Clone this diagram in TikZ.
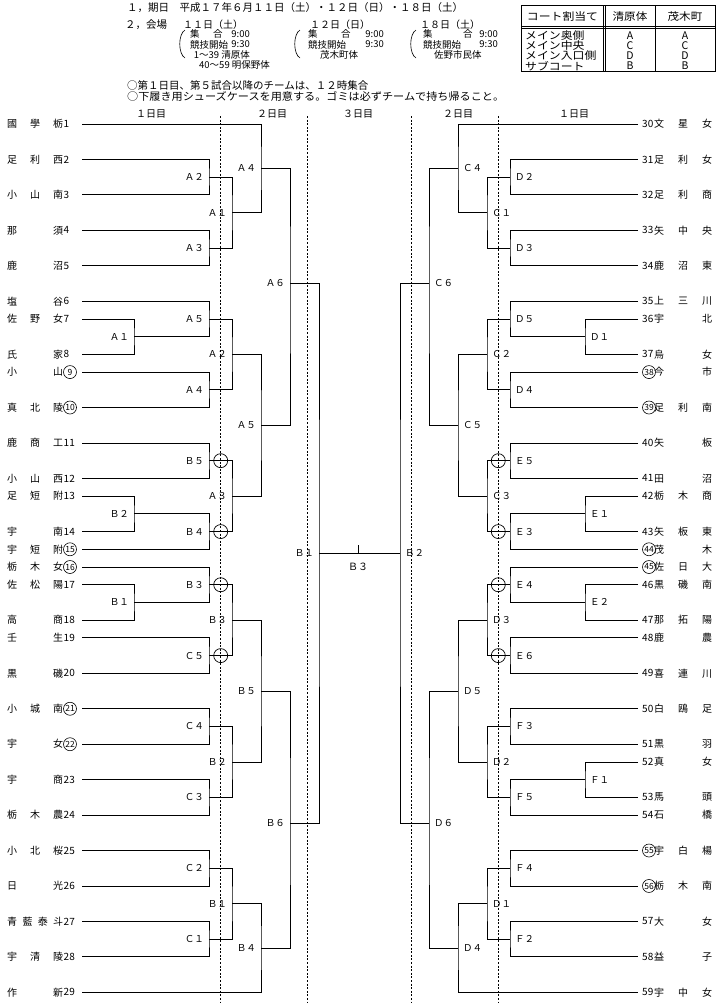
\documentclass[tikz,border=0pt]{standalone}
\usepackage{fontspec}
\setmainfont{Noto Sans CJK JP}
\usetikzlibrary{calc}
\tikzset{
 br/.style={line width=0.8pt},
 dl/.style={line width=0.7pt, dash pattern=on 2pt off 1.6pt},
 lblL/.style={anchor=east, inner sep=0pt, font=\fontsize{9.5}{10}\selectfont, xshift=-5pt},
 lblR/.style={anchor=west, inner sep=0pt, font=\fontsize{9.5}{10}\selectfont, xshift=5pt},
 nm/.style={inner sep=0pt, font=\fontsize{10}{10}\selectfont},
 num/.style={inner sep=0pt, font=\fontsize{10}{10}\selectfont},
 cnum/.style={circle, draw, line width=0.6pt, inner sep=0pt, minimum size=13pt, font=\fontsize{8.5}{8.5}\selectfont},
 ring/.style={circle, draw, line width=0.7pt, minimum size=14pt, inner sep=0pt},
 hd/.style={inner sep=0pt, font=\fontsize{10.5}{11}\selectfont},
 hs/.style={inner sep=0pt, font=\fontsize{10}{10}\selectfont},
 hb/.style={inner sep=0pt, font=\fontsize{9.5}{10}\selectfont},
 tb/.style={inner sep=0pt, font=\fontsize{10.5}{10.5}\selectfont},
}
\newcommand\Lteam[4]{%
 \coordinate (t#1) at (82,{124+#2*17.72});
 \node[nm,anchor=west] (n#1) at (7,{124+#2*17.72}) {\makebox[56pt][s]{#3}};
 \ifnum#4=1 \node[cnum] (k#1) at (70,{124+#2*17.72}) {#1};
 \else \node[num,anchor=west] (k#1) at (63.5,{124+#2*17.72}) {#1};\fi}
\newcommand\Rteam[4]{%
 \coordinate (t#1) at (638,{124+#2*17.72});
 \node[nm,anchor=west] (n#1) at (654,{124+#2*17.72}) {\makebox[58pt][s]{#3}};
 \ifnum#4=1 \node[cnum] (k#1) at (649,{124+#2*17.72}) {#1};
 \else \node[num,anchor=east] (k#1) at (653.5,{124+#2*17.72}) {#1};\fi}
\newcommand\Mt[6]{%
 \coordinate (#1) at ($(#2 -| #4)!.5!(#3 -| #4)$);
 \draw[br] (#2) -| (#1) |- (#3);
 \node[#6] (#1l) at (#1) {#5};}
\newcommand\My[7]{%
 \coordinate (#1) at ($(#4)+(0,#5)$);
 \draw[br] (#2) -| (#1) |- (#3);
 \node[#7] (#1l) at (#1) {#6};}
\begin{document}
\begin{tikzpicture}[x=1pt,y=-1pt]
\useasboundingbox (0,0) rectangle (720,1005);
% header
\node[hd,anchor=west] (h1) at (127,7.5) {１，期日　平成１７年６月１１日（土）・１２日（日）・１８日（土）};
\node[hd,anchor=west] (h2) at (125,25) {２，会場};
\node[hs,anchor=west] (h3) at (183,25) {１１日（土）};
\node[hs,anchor=west] (h4) at (310,25) {１２日（日）};
\node[hs,anchor=west] (h5) at (420,25) {１８日（土）};
% block 1
\node[hb,anchor=west] (b1a) at (190,34) {集};
\node[hb,anchor=west] (b1b) at (213,34) {合};
\node[hb,anchor=east] (b1c) at (250,34) {9:00};
\node[hb,anchor=west] (b1d) at (190,44.5) {競技開始};
\node[hb,anchor=east] (b1e) at (250,44.5) {9:30};
\node[hb,anchor=east] (b1f) at (250,55) {1～39 清原体};
\node[hb,anchor=west] (b1g) at (199,65) {40～59 明保野体};
% block 2
\node[hb,anchor=west] (b2a) at (308,34) {集};
\node[hb,anchor=west] (b2b) at (341,34) {合};
\node[hb,anchor=east] (b2c) at (384,34) {9:00};
\node[hb,anchor=west] (b2d) at (308,44.5) {競技開始};
\node[hb,anchor=east] (b2e) at (384,44.5) {9:30};
\node[hb,anchor=west] (b2f) at (320,55) {茂木町体};
% block 3
\node[hb,anchor=west] (b3a) at (423,34) {集};
\node[hb,anchor=west] (b3b) at (463,34) {合};
\node[hb,anchor=east] (b3c) at (498,34) {9:00};
\node[hb,anchor=west] (b3d) at (423,44.5) {競技開始};
\node[hb,anchor=east] (b3e) at (498,44.5) {9:30};
\node[hb,anchor=west] (b3f) at (434,55) {佐野市民体};
\draw[line width=0.6pt] (185,30) .. controls (178,34) and (178,54) .. (185,58);
\draw[line width=0.6pt] (300,30) .. controls (293,34) and (293,54) .. (300,58);
\draw[line width=0.6pt] (416,30) .. controls (409,34) and (409,54) .. (416,58);
\node[hd,anchor=west] (h6) at (127,85.5) {○第１日目、第５試合以降のチームは、１２時集合};
\node[hd,anchor=west] (h7) at (127,96) {\scalebox{1.06}[1]{○下履き用シューズケースを用意する。ゴミは必ずチームで持ち帰ること。}};
% table
\draw[line width=0.8pt] (521,5) rectangle (715,71);
\draw[line width=0.6pt] (521,26.5) -- (715,26.5);
\draw[line width=0.6pt] (521,28.5) -- (715,28.5);
\draw[line width=0.6pt] (603,5) -- (603,71);
\draw[line width=0.6pt] (605,5) -- (605,71);
\draw[line width=0.6pt] (655,5) -- (655,71);
\node[tb] (ta) at (562.5,16.5) {\scalebox{1.13}[1]{コート割当て}};
\node[tb] (tb) at (630,16.5) {\scalebox{1.1}[1]{清原体}};
\node[tb] (tc) at (685,16.5) {\scalebox{1.1}[1]{茂木町}};
\node[tb,anchor=west] (r1) at (525,36) {\scalebox{1.13}[1]{メイン奥側}};
\node[tb,anchor=west] (r2) at (525,46) {\scalebox{1.13}[1]{メイン中央}};
\node[tb,anchor=west] (r3) at (525,56) {\scalebox{1.13}[1]{メイン入口側}};
\node[tb,anchor=west] (r4) at (525,66) {\scalebox{1.13}[1]{サブコート}};
\foreach \l [count=\i] in {A,C,D,B}{
 \node[tb] (c2\i) at (630,{26+\i*10}) {\l};
 \node[tb] (c3\i) at (685,{26+\i*10}) {\l};}
% day headers
\node[hs] (d1) at (151,114) {１日目};
\node[hs] (d2) at (272,114) {２日目};
\node[hs] (d3) at (358,114) {３日目};
\node[hs] (d4) at (458,114) {２日目};
\node[hs] (d5) at (574,114) {１日目};
% dashed day lines
\foreach \x/\n in {220.7/a,307/b,411.7/c,498.3/d}{
 \coordinate (g\n1) at (\x,116);
 \coordinate (g\n2) at (\x,1003);
 \draw[dl] (g\n1) -- (g\n2);}
% x positions
\coordinate (xa) at (134,0);
\coordinate (xb) at (209,0);
\coordinate (xc) at (232,0);
\coordinate (xd) at (261,0);
\coordinate (xe) at (290,0);
\coordinate (xf) at (319,0);
\coordinate (ya) at (585,0);
\coordinate (yb) at (510,0);
\coordinate (yc) at (487,0);
\coordinate (yd) at (458,0);
\coordinate (ye) at (429,0);
\coordinate (yf) at (400,0);
\coordinate (xr) at (220.7,0);
\coordinate (yr) at (498.3,0);
% left teams
\Lteam{1}{0}{國\hfill 學\hfill 栃}{0}
\Lteam{2}{2}{足\hfill 利\hfill 西}{0}
\Lteam{3}{4}{小\hfill 山\hfill 南}{0}
\Lteam{4}{6}{那\hfill 須}{0}
\Lteam{5}{8}{鹿\hfill 沼}{0}
\Lteam{6}{10}{塩\hfill 谷}{0}
\Lteam{7}{11}{佐\hfill 野\hfill 女}{0}
\Lteam{8}{13}{氏\hfill 家}{0}
\Lteam{9}{14}{小\hfill 山}{1}
\Lteam{10}{16}{真\hfill 北\hfill 陵}{1}
\Lteam{11}{18}{鹿\hfill 商\hfill 工}{0}
\Lteam{12}{20}{小\hfill 山\hfill 西}{0}
\Lteam{13}{21}{足\hfill 短\hfill 附}{0}
\Lteam{14}{23}{宇\hfill 南}{0}
\Lteam{15}{24}{宇\hfill 短\hfill 附}{1}
\Lteam{16}{25}{栃\hfill 木\hfill 女}{1}
\Lteam{17}{26}{佐\hfill 松\hfill 陽}{0}
\Lteam{18}{28}{高\hfill 商}{0}
\Lteam{19}{29}{壬\hfill 生}{0}
\Lteam{20}{31}{黒\hfill 磯}{0}
\Lteam{21}{33}{小\hfill 城\hfill 南}{1}
\Lteam{22}{35}{宇\hfill 女}{1}
\Lteam{23}{37}{宇\hfill 商}{0}
\Lteam{24}{39}{栃\hfill 木\hfill 農}{0}
\Lteam{25}{41}{小\hfill 北\hfill 桜}{0}
\Lteam{26}{43}{日\hfill 光}{0}
\Lteam{27}{45}{青\hfill 藍\hfill 泰\hfill 斗}{0}
\Lteam{28}{47}{宇\hfill 清\hfill 陵}{0}
\Lteam{29}{49}{作\hfill 新}{0}
% right teams
\Rteam{30}{0}{文\hfill 星\hfill 女}{0}
\Rteam{31}{2}{足\hfill 利\hfill 女}{0}
\Rteam{32}{4}{足\hfill 利\hfill 商}{0}
\Rteam{33}{6}{矢\hfill 中\hfill 央}{0}
\Rteam{34}{8}{鹿\hfill 沼\hfill 東}{0}
\Rteam{35}{10}{上\hfill 三\hfill 川}{0}
\Rteam{36}{11}{宇\hfill 北}{0}
\Rteam{37}{13}{烏\hfill 女}{0}
\Rteam{38}{14}{今\hfill 市}{1}
\Rteam{39}{16}{足\hfill 利\hfill 南}{1}
\Rteam{40}{18}{矢\hfill 板}{0}
\Rteam{41}{20}{田\hfill 沼}{0}
\Rteam{42}{21}{栃\hfill 木\hfill 商}{0}
\Rteam{43}{23}{矢\hfill 板\hfill 東}{0}
\Rteam{44}{24}{茂\hfill 木}{1}
\Rteam{45}{25}{佐\hfill 日\hfill 大}{1}
\Rteam{46}{26}{黒\hfill 磯\hfill 南}{0}
\Rteam{47}{28}{那\hfill 拓\hfill 陽}{0}
\Rteam{48}{29}{鹿\hfill 農}{0}
\Rteam{49}{31}{喜\hfill 連\hfill 川}{0}
\Rteam{50}{33}{白\hfill 鴎\hfill 足}{0}
\Rteam{51}{35}{黒\hfill 羽}{0}
\Rteam{52}{36}{真\hfill 女}{0}
\Rteam{53}{38}{馬\hfill 頭}{0}
\Rteam{54}{39}{石\hfill 橋}{0}
\Rteam{55}{41}{宇\hfill 白\hfill 楊}{1}
\Rteam{56}{43}{栃\hfill 木\hfill 南}{1}
\Rteam{57}{45}{大\hfill 女}{0}
\Rteam{58}{47}{益\hfill 子}{0}
\Rteam{59}{49}{宇\hfill 中\hfill 女}{0}
% left bracket
\Mt{LA1p}{t7}{t8}{xa}{Ａ１}{lblL}
\Mt{LB2p}{t13}{t14}{xa}{Ｂ２}{lblL}
\Mt{LB1p}{t17}{t18}{xa}{Ｂ１}{lblL}
\Mt{LA2}{t2}{t3}{xb}{Ａ２}{lblL}
\Mt{LA3}{t4}{t5}{xb}{Ａ３}{lblL}
\Mt{LA5}{t6}{LA1p}{xb}{Ａ５}{lblL}
\Mt{LA4}{t9}{t10}{xb}{Ａ４}{lblL}
\Mt{LB5}{t11}{t12}{xb}{Ｂ５}{lblL}
\Mt{LB4}{LB2p}{t15}{xb}{Ｂ４}{lblL}
\Mt{LB3}{t16}{LB1p}{xb}{Ｂ３}{lblL}
\Mt{LC5}{t19}{t20}{xb}{Ｃ５}{lblL}
\Mt{LC4}{t21}{t22}{xb}{Ｃ４}{lblL}
\Mt{LC3}{t23}{t24}{xb}{Ｃ３}{lblL}
\Mt{LC2}{t25}{t26}{xb}{Ｃ２}{lblL}
\Mt{LC1}{t27}{t28}{xb}{Ｃ１}{lblL}
\Mt{LA1b}{LA2}{LA3}{xc}{Ａ１}{lblL}
\Mt{LA2b}{LA5}{LA4}{xc}{Ａ２}{lblL}
\Mt{LA3b}{LB5}{LB4}{xc}{Ａ３}{lblL}
\Mt{LB3b}{LB3}{LC5}{xc}{Ｂ３}{lblL}
\Mt{LB2b}{LC4}{LC3}{xc}{Ｂ２}{lblL}
\Mt{LB1b}{LC2}{LC1}{xc}{Ｂ１}{lblL}
\Mt{LA4b}{t1}{LA1b}{xd}{Ａ４}{lblL}
\Mt{LA5b}{LA2b}{LA3b}{xd}{Ａ５}{lblL}
\Mt{LB5b}{LB3b}{LB2b}{xd}{Ｂ５}{lblL}
\Mt{LB4b}{LB1b}{t29}{xd}{Ｂ４}{lblL}
\My{LA6}{LA4b}{LA5b}{xe}{283}{Ａ６}{lblL}
\My{LB6}{LB5b}{LB4b}{xe}{823}{Ｂ６}{lblL}
\My{LB1c}{LA6}{LB6}{xf}{553}{Ｂ１}{lblL}
% right bracket
\Mt{RD1p}{t36}{t37}{ya}{Ｄ１}{lblR}
\Mt{RE1p}{t42}{t43}{ya}{Ｅ１}{lblR}
\Mt{RE2p}{t46}{t47}{ya}{Ｅ２}{lblR}
\Mt{RF1p}{t52}{t53}{ya}{Ｆ１}{lblR}
\Mt{RD2}{t31}{t32}{yb}{Ｄ２}{lblR}
\Mt{RD3}{t33}{t34}{yb}{Ｄ３}{lblR}
\Mt{RD5}{t35}{RD1p}{yb}{Ｄ５}{lblR}
\Mt{RD4}{t38}{t39}{yb}{Ｄ４}{lblR}
\Mt{RE5}{t40}{t41}{yb}{Ｅ５}{lblR}
\Mt{RE3}{RE1p}{t44}{yb}{Ｅ３}{lblR}
\Mt{RE4}{t45}{RE2p}{yb}{Ｅ４}{lblR}
\Mt{RE6}{t48}{t49}{yb}{Ｅ６}{lblR}
\Mt{RF3}{t50}{t51}{yb}{Ｆ３}{lblR}
\Mt{RF5}{RF1p}{t54}{yb}{Ｆ５}{lblR}
\Mt{RF4}{t55}{t56}{yb}{Ｆ４}{lblR}
\Mt{RF2}{t57}{t58}{yb}{Ｆ２}{lblR}
\Mt{RC1}{RD2}{RD3}{yc}{Ｃ１}{lblR}
\Mt{RC2}{RD5}{RD4}{yc}{Ｃ２}{lblR}
\Mt{RC3}{RE5}{RE3}{yc}{Ｃ３}{lblR}
\Mt{RD3b}{RE4}{RE6}{yc}{Ｄ３}{lblR}
\Mt{RD2b}{RF3}{RF5}{yc}{Ｄ２}{lblR}
\Mt{RD1b}{RF4}{RF2}{yc}{Ｄ１}{lblR}
\Mt{RC4}{t30}{RC1}{yd}{Ｃ４}{lblR}
\Mt{RC5}{RC2}{RC3}{yd}{Ｃ５}{lblR}
\Mt{RD5b}{RD3b}{RD2b}{yd}{Ｄ５}{lblR}
\Mt{RD4b}{RD1b}{t59}{yd}{Ｄ４}{lblR}
\My{RC6}{RC4}{RC5}{ye}{283}{Ｃ６}{lblR}
\My{RD6}{RD5b}{RD4b}{ye}{823}{Ｄ６}{lblR}
\My{RB2}{RC6}{RD6}{yf}{553}{Ｂ２}{lblR}
% final
\draw[br] (LB1c) -- (RB2);
\coordinate (tk1) at (358,553);
\coordinate (tk2) at (358,545);
\draw[br] (tk1) -- (tk2);
\node[hs] (fin) at (358,567) {Ｂ３};
% rings
\foreach \m in {LB5,LB4,LB3,LC5}{\node[ring] (o\m) at (\m -| xr) {};}
\foreach \m in {RE5,RE3,RE4,RE6}{\node[ring] (o\m) at (\m -| yr) {};}
\end{tikzpicture}
\end{document}
